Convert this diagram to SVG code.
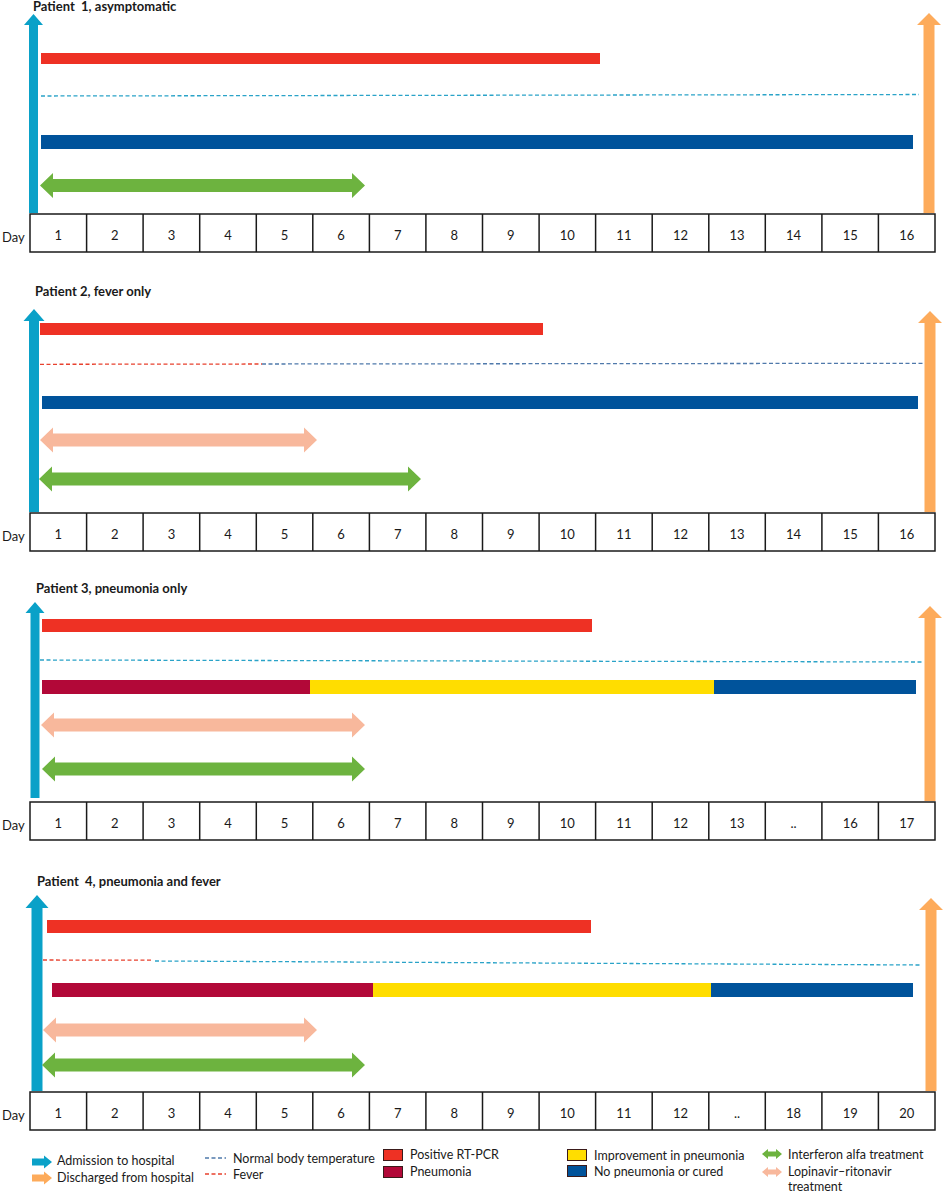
<svg xmlns="http://www.w3.org/2000/svg" width="943" height="1193" viewBox="0 0 943 1193">
<style>
text{font-family:Lato,"Liberation Sans",sans-serif;fill:#1a1a1a}
.title{font-size:13px;font-weight:bold;white-space:pre}
.day{font-size:13px;text-anchor:middle}
.dl{font-size:13px}
.lg{font-size:12.5px}
.adm{fill:#0aa1c8}
.dis{fill:#fdab5b}
.pcr{fill:#ee3124}
.cur{fill:#00539b}
.pne{fill:#b20838}
.imp{fill:#ffdd00}
.ifn{fill:#6db33f}
.lpv{fill:#f8b89c}
.nbt{stroke:#2aa3c8;stroke-width:1.3;stroke-dasharray:4 2.5;fill:none}
.nbt2{stroke:#4f79ab;stroke-width:1.3;stroke-dasharray:4 2.5;fill:none}
.fev{stroke:#e8412e;stroke-width:1.3;stroke-dasharray:4 2.5;fill:none}
.cell{fill:#fff;stroke:#1a1a1a;stroke-width:1.5}
.sw{stroke:#3a1a1a;stroke-width:1}
</style>
<defs>
<g id="row16">
<rect class="cell" x="30" y="0" width="905" height="38"/>
<path d="M86.6,0V38M143.1,0V38M199.7,0V38M256.3,0V38M312.8,0V38M369.4,0V38M425.9,0V38M482.5,0V38M539.1,0V38M595.6,0V38M652.2,0V38M708.8,0V38M765.3,0V38M821.9,0V38M878.4,0V38" stroke="#1a1a1a" stroke-width="1.5"/>
<text class="dl" x="2" y="28">Day</text>
</g>
</defs>

<g id="patient1">
<text class="title" x="33" y="11">Patient  1, asymptomatic</text>
<path class="adm" d="M33.5,14 L43,25 L38,25 L38,213 L29,213 L29,25 L24,25 Z"/>
<path class="dis" d="M929,13 L941,25 L934.5,25 L934.5,213 L923.5,213 L923.5,25 L917,25 Z"/>
<rect class="pcr" x="41" y="53" width="559" height="11"/>
<path class="nbt" d="M41,96 L919,94.5"/>
<rect class="cur" x="41" y="135" width="872" height="14"/>
<path class="ifn" d="M40,185.5 L53,173 L53,179 L352,179 L352,173 L365,185.5 L352,198 L352,192 L53,192 L53,198 Z"/>
<g id="days1" transform="translate(0,214)">
<use href="#row16"/>
<g transform="translate(0,26)">
<text class="day" x="58.3">1</text><text class="day" x="114.8">2</text><text class="day" x="171.4">3</text><text class="day" x="228">4</text><text class="day" x="284.5">5</text><text class="day" x="341.1">6</text><text class="day" x="397.7">7</text><text class="day" x="454.2">8</text><text class="day" x="510.8">9</text><text class="day" x="567.3">10</text><text class="day" x="623.9">11</text><text class="day" x="680.5">12</text><text class="day" x="737">13</text><text class="day" x="793.6">14</text><text class="day" x="850.2">15</text><text class="day" x="906.7">16</text>
</g>
</g>
</g>

<g id="patient2">
<text class="title" x="35" y="296">Patient 2, fever only</text>
<path class="adm" d="M34,309 L44.5,321 L39,321 L39,512 L29,512 L29,321 L23.5,321 Z"/>
<path class="dis" d="M930,311 L942,323 L935.5,323 L935.5,512 L924.5,512 L924.5,323 L918,323 Z"/>
<rect class="pcr" x="40" y="323" width="503" height="12"/>
<path class="fev" d="M40,364.3 L262,364"/>
<path class="nbt2" d="M262,364 L924,363.3"/>
<rect class="cur" x="42" y="396" width="876" height="13"/>
<path class="lpv" d="M40,440 L53,427.5 L53,433.5 L304,433.5 L304,427.5 L317,440 L304,452.5 L304,446.5 L53,446.5 L53,452.5 Z"/>
<path class="ifn" d="M39,479 L52,466.5 L52,472.5 L408,472.5 L408,466.5 L421,479 L408,491.5 L408,485.5 L52,485.5 L52,491.5 Z"/>
<g id="days2" transform="translate(0,513)">
<use href="#row16"/>
<g transform="translate(0,26)">
<text class="day" x="58.3">1</text><text class="day" x="114.8">2</text><text class="day" x="171.4">3</text><text class="day" x="228">4</text><text class="day" x="284.5">5</text><text class="day" x="341.1">6</text><text class="day" x="397.7">7</text><text class="day" x="454.2">8</text><text class="day" x="510.8">9</text><text class="day" x="567.3">10</text><text class="day" x="623.9">11</text><text class="day" x="680.5">12</text><text class="day" x="737">13</text><text class="day" x="793.6">14</text><text class="day" x="850.2">15</text><text class="day" x="906.7">16</text>
</g>
</g>
</g>

<g id="patient3">
<text class="title" x="36" y="593">Patient 3, pneumonia only</text>
<path class="adm" d="M35,602 L44.5,613 L39.5,613 L39.5,798 L30.5,798 L30.5,613 L25.5,613 Z"/>
<path class="dis" d="M930,606 L942,618 L935.5,618 L935.5,801 L924.5,801 L924.5,618 L918,618 Z"/>
<rect class="pcr" x="42" y="619" width="550" height="13"/>
<path class="nbt" d="M40,660 L922,662"/>
<rect class="pne" x="42" y="680" width="268" height="14"/>
<rect class="imp" x="310" y="680" width="404" height="14"/>
<rect class="cur" x="714" y="680" width="202" height="14"/>
<path class="lpv" d="M41,725 L54,712.5 L54,718.5 L352,718.5 L352,712.5 L365,725 L352,737.5 L352,731.5 L54,731.5 L54,737.5 Z"/>
<path class="ifn" d="M42,769 L55,756.5 L55,762.5 L352,762.5 L352,756.5 L365,769 L352,781.5 L352,775.5 L55,775.5 L55,781.5 Z"/>
<g id="days3" transform="translate(0,802)">
<use href="#row16"/>
<g transform="translate(0,26)">
<text class="day" x="58.3">1</text><text class="day" x="114.8">2</text><text class="day" x="171.4">3</text><text class="day" x="228">4</text><text class="day" x="284.5">5</text><text class="day" x="341.1">6</text><text class="day" x="397.7">7</text><text class="day" x="454.2">8</text><text class="day" x="510.8">9</text><text class="day" x="567.3">10</text><text class="day" x="623.9">11</text><text class="day" x="680.5">12</text><text class="day" x="737">13</text><text class="day" x="793.6">..</text><text class="day" x="850.2">16</text><text class="day" x="906.7">17</text>
</g>
</g>
</g>

<g id="patient4">
<text class="title" x="37" y="886">Patient  4, pneumonia and fever</text>
<path class="adm" d="M37,895 L48.5,908 L42.5,908 L42.5,1091 L31.5,1091 L31.5,908 L25.5,908 Z"/>
<path class="dis" d="M931,898 L943,910 L936.5,910 L936.5,1091 L925.5,1091 L925.5,910 L919,910 Z"/>
<rect class="pcr" x="47" y="920" width="544" height="13"/>
<path class="fev" d="M43,960 L151,960.2"/>
<path class="nbt" d="M155,961 L920,965"/>
<rect class="pne" x="52" y="983" width="321" height="14"/>
<rect class="imp" x="373" y="983" width="338" height="14"/>
<rect class="cur" x="711" y="983" width="202" height="14"/>
<path class="lpv" d="M43,1030 L56,1017.5 L56,1023.5 L304,1023.5 L304,1017.5 L317,1030 L304,1042.5 L304,1036.5 L56,1036.5 L56,1042.5 Z"/>
<path class="ifn" d="M42,1065 L55,1052.5 L55,1058.5 L352,1058.5 L352,1052.5 L365,1065 L352,1077.5 L352,1071.5 L55,1071.5 L55,1077.5 Z"/>
<g id="days4" transform="translate(0,1092)">
<use href="#row16"/>
<g transform="translate(0,26)">
<text class="day" x="58.3">1</text><text class="day" x="114.8">2</text><text class="day" x="171.4">3</text><text class="day" x="228">4</text><text class="day" x="284.5">5</text><text class="day" x="341.1">6</text><text class="day" x="397.7">7</text><text class="day" x="454.2">8</text><text class="day" x="510.8">9</text><text class="day" x="567.3">10</text><text class="day" x="623.9">11</text><text class="day" x="680.5">12</text><text class="day" x="737">..</text><text class="day" x="793.6">18</text><text class="day" x="850.2">19</text><text class="day" x="906.7">20</text>
</g>
</g>
</g>

<g id="legend">
<path class="adm" d="M32,1158.5 L44,1158.5 L44,1155.5 L52,1162 L44,1168.5 L44,1165.5 L32,1165.5 Z"/>
<text class="lg" x="57" y="1165">Admission to hospital</text>
<path class="dis" d="M32,1174.5 L44,1174.5 L44,1171.5 L52,1178 L44,1184.5 L44,1181.5 L32,1181.5 Z"/>
<text class="lg" x="57" y="1182">Discharged from hospital</text>
<path class="nbt2" d="M205,1158 L226,1158"/>
<text class="lg" x="233" y="1163">Normal body temperature</text>
<path class="fev" d="M205,1174 L226,1174"/>
<text class="lg" x="233" y="1179">Fever</text>
<rect class="pcr sw" x="383.5" y="1149.5" width="19" height="11"/>
<text class="lg" x="410" y="1159">Positive RT-PCR</text>
<rect class="pne sw" x="383.5" y="1166.5" width="19" height="11"/>
<text class="lg" x="410" y="1176">Pneumonia</text>
<rect class="imp sw" x="567.5" y="1149.5" width="19" height="11"/>
<text class="lg" x="594" y="1160">Improvement in pneumonia</text>
<rect class="cur sw" x="567.5" y="1165.5" width="19" height="11"/>
<text class="lg" x="594" y="1176">No pneumonia or cured</text>
<path class="ifn" d="M762,1154 L768,1149 L768,1151.5 L776,1151.5 L776,1149 L782,1154 L776,1159 L776,1156.5 L768,1156.5 L768,1159 Z"/>
<text class="lg" x="788" y="1159">Interferon alfa treatment</text>
<path class="lpv" d="M762,1172 L768,1167 L768,1169.5 L776,1169.5 L776,1167 L782,1172 L776,1177 L776,1174.5 L768,1174.5 L768,1177 Z"/>
<text class="lg" x="788" y="1176">Lopinavir–ritonavir</text>
<text class="lg" x="788" y="1191">treatment</text>
</g>
</svg>
